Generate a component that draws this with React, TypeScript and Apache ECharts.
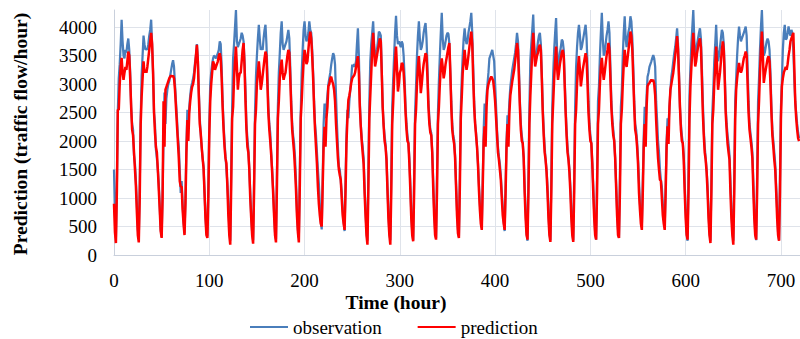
import React, { useEffect, useRef } from "react";
import * as echarts from "echarts";

// Hourly traffic flow, one row per day (24 hours)
const observationWeek1 = [
  1500, 700, 300, 1200, 2500, 3100, 3350, 3700, 4130, 3750, 3500, 3450, 3600, 3550, 3700, 3800, 3600, 3200, 2600, 2300, 2200, 1750, 1600, 1300,
  900, 450, 300, 1200, 2400, 3150, 3500, 3850, 3700, 3600, 3620, 3600, 3700, 3850, 3950, 4130, 3700, 3200, 2500, 2300, 1850, 1700, 1500, 1250,
  850, 450, 320, 1100, 2100, 2850, 2300, 2750, 2900, 3000, 3050, 3150, 3250, 3350, 3420, 3300, 3000, 2700, 2430, 2100, 1900, 1500, 1090, 1300,
  900, 600, 380, 1000, 1900, 2550, 2300, 2600, 2800, 2950, 3020, 3100, 3200, 3370, 3500, 3700, 3450, 2900, 2400, 2140, 1900, 1700, 1550, 1100,
  700, 400, 330, 1200, 2300, 2990, 3200, 3350, 3450, 3500, 3480, 3450, 3500, 3540, 3600, 3750, 3700, 3300, 2700, 2300, 2000, 1730, 1500, 1260,
  900, 500, 250, 1500, 2600, 3450, 3700, 4000, 4300, 3750, 3650, 3700, 3750, 3800, 3900, 3850, 3750, 3400, 2900, 2300, 2050, 1850, 1500, 1100,
  700, 400, 260, 1300, 2500, 3130, 3500, 3800, 4040, 3800, 3600, 3650, 3600, 3800, 3950, 4040, 3700, 3200, 2600, 2300, 2140, 1800, 1500, 1150,
];
const observationWeek2 = [
  750, 400, 280, 1400, 2600, 3200, 3540, 3900, 4100, 3700, 3600, 3650, 3700, 3750, 3850, 3950, 3800, 3300, 2700, 2300, 2100, 1960, 1700, 1300,
  800, 450, 300, 1400, 2500, 3200, 3600, 3950, 4100, 3850, 3750, 3800, 3900, 4100, 3950, 3900, 3600, 3200, 2700, 2300, 2100, 1800, 1500, 1250,
  900, 600, 450, 1300, 2300, 2660, 2400, 2600, 2800, 3000, 3100, 3200, 3340, 3450, 3540, 3500, 3340, 2800, 2300, 1900, 1550, 1500, 1300, 1100,
  800, 600, 420, 1300, 2100, 2550, 2400, 2700, 2900, 3100, 3340, 3300, 3350, 3300, 3400, 3700, 3980, 3500, 2700, 2300, 2050, 1900, 1700, 1200,
  800, 400, 250, 1500, 2700, 3400, 3700, 3900, 4100, 3700, 3500, 3490, 3600, 3750, 3920, 3900, 3850, 3300, 2600, 2300, 2100, 1940, 1700, 1200,
  750, 400, 260, 1400, 2600, 3075, 3500, 3900, 4200, 3850, 3700, 3750, 3700, 3650, 3750, 3700, 3500, 3100, 2600, 2300, 2100, 1960, 1700, 1250,
  750, 400, 260, 1400, 2500, 2960, 3500, 3850, 4100, 3800, 3600, 3650, 3750, 3900, 4000, 4070, 3800, 3300, 2700, 2400, 2200, 2140, 1800, 1300,
];
const observationWeek3 = [
  800, 450, 300, 1400, 2500, 3050, 3500, 3900, 4250, 3800, 3600, 3650, 3750, 3850, 3900, 3880, 3700, 3200, 2700, 2300, 2100, 2020, 1750, 1250,
  800, 450, 320, 1400, 2600, 3100, 3500, 3800, 3980, 3800, 3700, 3750, 3900, 4000, 4100, 4250, 3900, 3300, 2700, 2310, 2150, 1900, 1600, 1250,
  900, 650, 480, 1300, 2200, 2660, 2300, 2800, 3000, 3200, 3450, 3500, 3550, 3600, 3500, 3400, 3000, 2600, 2200, 1900, 1730, 1600, 1400, 1100,
  850, 600, 420, 1200, 2000, 2450, 2350, 2700, 2950, 3100, 3250, 3350, 3450, 3550, 3700, 3900, 3750, 3300, 2700, 2300, 2100, 1960, 1700, 1200,
  800, 400, 250, 1400, 2600, 3420, 3700, 3950, 4220, 3700, 3370, 3450, 3600, 3750, 3850, 3900, 3700, 3200, 2600, 2200, 1900, 1670, 1500, 1200,
  750, 400, 260, 1400, 2600, 3200, 3600, 3900, 4160, 3600, 3250, 3400, 3550, 3650, 3780, 3750, 3600, 3100, 2600, 2200, 1900, 1700, 1500, 1200,
  800, 400, 260, 1400, 2600, 3300, 3650, 3900, 4040, 3850, 3600, 3650, 3750, 3850, 3950, 4040, 3800, 3300, 2700, 2300, 2100, 1960, 1610, 1200,
];
const observationWeek4 = [
  750, 400, 270, 1400, 2700, 2960, 3500, 3900, 4250, 3800, 3500, 3550, 3700, 3850, 3950, 4100, 3900, 3300, 2700, 2400, 2200, 2020, 1700, 1250,
  800, 450, 300, 1400, 2600, 2900, 3500, 3900, 4190, 3800, 3650, 3800, 3920, 4000, 4190, 4100, 3800, 3300, 2700, 2300, 2200, 2000, 1700, 1300,
  900, 700, 500, 1300, 2100, 2600, 2300, 2800, 3130, 3200, 3300, 3350, 3400, 3460, 3510, 3450, 3300, 2700, 2370, 2000, 1800, 1500, 1320, 1200,
  900, 650, 500, 1200, 2000, 2400, 2300, 2600, 2900, 3130, 3250, 3400, 3540, 3650, 3800, 3980, 3700, 3200, 2600, 2300, 2100, 1960, 1750, 1250,
  800, 400, 250, 1500, 2800, 3300, 3700, 4000, 4300, 3800, 3500, 3550, 3700, 3800, 3900, 3980, 3800, 3300, 2700, 2200, 1900, 1700, 1500, 1200,
  750, 400, 250, 1300, 2500, 2900, 3400, 3700, 4040, 3600, 3400, 3500, 3650, 3800, 3950, 3900, 3700, 3200, 2600, 2300, 2100, 1950, 1750, 1300,
  800, 450, 250, 1400, 2700, 3100, 3500, 3800, 4010, 3850, 3750, 3800, 3850, 3900, 3950, 4010, 3850, 3300, 2700, 2300, 2140, 2000, 1800, 1300,
];
const observationWeek5 = [
  800, 400, 260, 1400, 2700, 3100, 3600, 4000, 4300, 3800, 3500, 3550, 3650, 3750, 3800, 3750, 3600, 3200, 2600, 2200, 2000, 1800, 1600, 1200,
  800, 400, 260, 1400, 2600, 3075, 3600, 3900, 4040, 3780, 3800, 3900, 4010, 3900, 3850, 3950, 3900, 3600, 3100, 2700, 2490, 2300, 2150, 2050,
];

const predictionWeek1 = [
  900, 400, 210, 1100, 2550, 2550, 3000, 3300, 3460, 3200, 3075, 3200, 3300, 3250, 3400, 3570, 3500, 3100, 2600, 2200, 2100, 1800, 1500, 1200,
  750, 350, 220, 1000, 2300, 2780, 3100, 3400, 3200, 3250, 3200, 3300, 3450, 3600, 3750, 3900, 3700, 3200, 2500, 2150, 1900, 1800, 1500, 1150,
  800, 420, 300, 1000, 2700, 1900, 2900, 2950, 3000, 3050, 3100, 3130, 3150, 3130, 3150, 3100, 2900, 2600, 2300, 2000, 1700, 1300, 1200, 1200,
  800, 550, 350, 900, 1800, 2370, 2000, 2500, 2700, 2850, 2950, 3000, 3100, 3300, 3500, 3690, 3400, 2800, 2300, 2140, 1900, 1700, 1520, 1100,
  650, 350, 300, 1000, 2100, 2700, 3000, 3200, 3400, 3350, 3250, 3300, 3350, 3400, 3500, 3540, 3450, 3100, 2600, 2200, 1900, 1700, 1610, 1200,
  700, 350, 180, 1200, 2400, 2600, 3100, 3400, 3660, 3300, 2900, 3100, 3190, 3200, 3400, 3600, 3720, 3300, 2700, 2200, 1900, 1800, 1500, 1000,
  650, 350, 200, 1100, 2300, 2550, 3000, 3200, 3400, 3200, 2900, 3000, 3150, 3300, 3450, 3570, 3500, 3000, 2500, 2200, 2000, 1750, 1450, 1100,
];
const predictionWeek2 = [
  700, 350, 220, 1200, 2400, 2700, 3100, 3300, 3430, 3200, 3075, 3150, 3200, 3350, 3500, 3600, 3550, 3100, 2600, 2200, 2000, 1800, 1500, 1150,
  700, 400, 220, 1200, 2400, 2700, 3100, 3400, 3600, 3500, 3350, 3400, 3600, 3800, 3920, 3800, 3500, 3100, 2600, 2200, 1900, 1600, 1200, 900,
  700, 550, 500, 1200, 1900, 2250, 1900, 2400, 2600, 2960, 3000, 3100, 3130, 3050, 3000, 2900, 2700, 2310, 2000, 1700, 1500, 1400, 1320, 1000,
  700, 550, 440, 1100, 1960, 2400, 2720, 2800, 2900, 3020, 3100, 3130, 3150, 3200, 3300, 3400, 3490, 3200, 2600, 2260, 2000, 1790, 1600, 1100,
  700, 350, 180, 1200, 2400, 2800, 3200, 3600, 3900, 3600, 3310, 3400, 3500, 3600, 3700, 3800, 3750, 3200, 2600, 2260, 2000, 1900, 1670, 1150,
  650, 350, 180, 1100, 2300, 2670, 3100, 3400, 3660, 3300, 2870, 3000, 3200, 3250, 3370, 3350, 3200, 2900, 2500, 2200, 2000, 1960, 1610, 1150,
  650, 350, 240, 1100, 2300, 2550, 3000, 3300, 3490, 3200, 2840, 3000, 3200, 3350, 3450, 3540, 3500, 3100, 2600, 2300, 2150, 2100, 1800, 1200,
];
const predictionWeek3 = [
  700, 350, 270, 1100, 2300, 2600, 3000, 3300, 3450, 3300, 3100, 3200, 3350, 3450, 3550, 3650, 3720, 3200, 2600, 2200, 2050, 1950, 1700, 1200,
  700, 380, 300, 1200, 2400, 2780, 3200, 3400, 3600, 3400, 3250, 3350, 3500, 3650, 3800, 3920, 3700, 3100, 2600, 2310, 2100, 1900, 1600, 1150,
  800, 550, 440, 1200, 2000, 2260, 1900, 2600, 2900, 3000, 3050, 3100, 3130, 3100, 3050, 2900, 2700, 2400, 2100, 1800, 1670, 1500, 1320, 1000,
  700, 550, 440, 1100, 1900, 2300, 1900, 2500, 2800, 2930, 3050, 3150, 3250, 3400, 3550, 3720, 3600, 3100, 2600, 2200, 2000, 1960, 1700, 1100,
  650, 350, 270, 1100, 2300, 2800, 3200, 3600, 3900, 3600, 3310, 3400, 3500, 3550, 3650, 3690, 3600, 3100, 2500, 2100, 1800, 1670, 1450, 1100,
  650, 350, 230, 1100, 2300, 2700, 3100, 3400, 3660, 3300, 3075, 3200, 3350, 3450, 3550, 3600, 3500, 3000, 2500, 2100, 1800, 1670, 1450, 1100,
  650, 350, 230, 1100, 2300, 2550, 3000, 3300, 3490, 3250, 2960, 3100, 3250, 3350, 3450, 3540, 3450, 3000, 2500, 2200, 2000, 1960, 1600, 1100,
];
const predictionWeek4 = [
  650, 350, 270, 1100, 2300, 2550, 3000, 3300, 3460, 3250, 3075, 3200, 3350, 3500, 3600, 3720, 3600, 3100, 2600, 2300, 2100, 2000, 1700, 1200,
  700, 350, 300, 1100, 2300, 2550, 3000, 3350, 3600, 3400, 3300, 3450, 3600, 3750, 3920, 3850, 3600, 3100, 2600, 2200, 2100, 1900, 1600, 1100,
  800, 550, 440, 1100, 1900, 2300, 1900, 2600, 2960, 3000, 3020, 3050, 3075, 3050, 3075, 3000, 2800, 2370, 2000, 1700, 1500, 1320, 1300, 1000,
  700, 550, 440, 1100, 1900, 2260, 1950, 2600, 2900, 3000, 3100, 3200, 3350, 3500, 3650, 3840, 3600, 3100, 2600, 2200, 2000, 1960, 1650, 1100,
  650, 350, 270, 1100, 2400, 2960, 3300, 3600, 3900, 3600, 3310, 3400, 3550, 3650, 3750, 3800, 3650, 3100, 2500, 2100, 1800, 1670, 1450, 1100,
  650, 350, 210, 1100, 2300, 2550, 3000, 3300, 3660, 3300, 2900, 3050, 3200, 3400, 3600, 3750, 3600, 3100, 2500, 2200, 1950, 1800, 1670, 1100,
  650, 350, 180, 1100, 2400, 2900, 3100, 3250, 3370, 3250, 3200, 3250, 3350, 3450, 3500, 3570, 3500, 3000, 2500, 2200, 2050, 1900, 1700, 1150,
];
const predictionWeek5 = [
  650, 350, 270, 1100, 2300, 2700, 3200, 3600, 3920, 3500, 3020, 3150, 3250, 3350, 3450, 3490, 3400, 3000, 2500, 2100, 1900, 1670, 1500, 1100,
  650, 350, 250, 1100, 2400, 2960, 3100, 3200, 3250, 3300, 3250, 3350, 3500, 3600, 3750, 3800, 3850, 3900, 3300, 2700, 2400, 2200, 2050, 2000,
];

const seriesNames = ["observation", "prediction"];
const xTicks = [0, 100, 200, 300, 400, 500, 600, 700];
const yTicks = [0, 500, 1000, 1500, 2000, 2500, 3000, 3500, 4000];

const observation = [
  ...observationWeek1, ...observationWeek2, ...observationWeek3, ...observationWeek4, ...observationWeek5,
];
const prediction = [
  ...predictionWeek1, ...predictionWeek2, ...predictionWeek3, ...predictionWeek4, ...predictionWeek5,
];

const FONT = "'Liberation Serif', 'Times New Roman', serif";

export default function App() {
  const ref = useRef<HTMLDivElement>(null);

  useEffect(() => {
    if (!ref.current) return;
    const chart = echarts.init(ref.current, null, { renderer: "svg" });
    chart.setOption({
      animation: false,
      backgroundColor: "#ffffff",
      textStyle: { fontFamily: FONT },
      grid: { left: 114, top: 10, width: 688, height: 245, containLabel: false },
      legend: {
        data: seriesNames,
        left: 250,
        top: 317,
        padding: 0,
        icon: "rect",
        itemWidth: 38,
        itemHeight: 2,
        itemGap: 36,
        textStyle: { fontFamily: FONT, fontSize: 19, color: "#000", lineHeight: 20 },
      },
      xAxis: {
        type: "value",
        min: 0,
        max: 720,
        interval: 100,
        axisLine: { show: true, lineStyle: { color: "#c9d0dc", width: 1 } },
        axisTick: { show: false },
        axisLabel: {
          fontFamily: FONT,
          fontSize: 19,
          color: "#000",
          margin: 16,
          showMaxLabel: false,
          formatter: (v: number) => (xTicks.includes(v) ? String(v) : ""),
        },
        splitLine: { show: true, showMinLine: false, showMaxLine: false, lineStyle: { color: "#dfe3ea", width: 1 } },
      },
      yAxis: {
        type: "value",
        min: 0,
        max: 4300,
        interval: 500,
        axisLine: { show: true, lineStyle: { color: "#c9d0dc", width: 1 } },
        axisTick: { show: false },
        axisLabel: {
          fontFamily: FONT,
          fontSize: 19,
          color: "#000",
          margin: 17,
          showMaxLabel: false,
          formatter: (v: number) => (yTicks.includes(v) ? String(v) : ""),
        },
        splitLine: { show: true, showMinLine: false, showMaxLine: false, lineStyle: { color: "#dfe3ea", width: 1 } },
      },
      graphic: [
        {
          type: "text",
          x: 20,
          y: 134,
          rotation: Math.PI / 2,
          style: {
            text: "Prediction (traffic flow/hour)",
            fontFamily: FONT,
            fontSize: 19.5,
            fontWeight: "bold",
            fill: "#000",
            align: "center",
            verticalAlign: "middle",
          },
        },
        {
          type: "text",
          x: 396,
          y: 302,
          style: {
            text: "Time (hour)",
            fontFamily: FONT,
            fontSize: 19.5,
            fontWeight: "bold",
            fill: "#000",
            align: "center",
            verticalAlign: "middle",
          },
        },
      ],
      series: [
        {
          name: seriesNames[0],
          type: "line",
          data: observation.map((v, i) => [i, v]),
          showSymbol: false,
          symbol: "none",
          lineStyle: { color: "#4a7ebb", width: 2.25 },
          itemStyle: { color: "#4a7ebb" },
          z: 2,
        },
        {
          name: seriesNames[1],
          type: "line",
          data: prediction.map((v, i) => [i, v]),
          showSymbol: false,
          symbol: "none",
          lineStyle: { color: "#ff0000", width: 2.5 },
          itemStyle: { color: "#ff0000" },
          z: 3,
        },
      ],
    });
    return () => chart.dispose();
  }, []);

  return (
    <div
      ref={ref}
      style={{ position: "fixed", left: 0, top: 0, width: 800, height: 339, background: "#fff" }}
    />
  );
}
